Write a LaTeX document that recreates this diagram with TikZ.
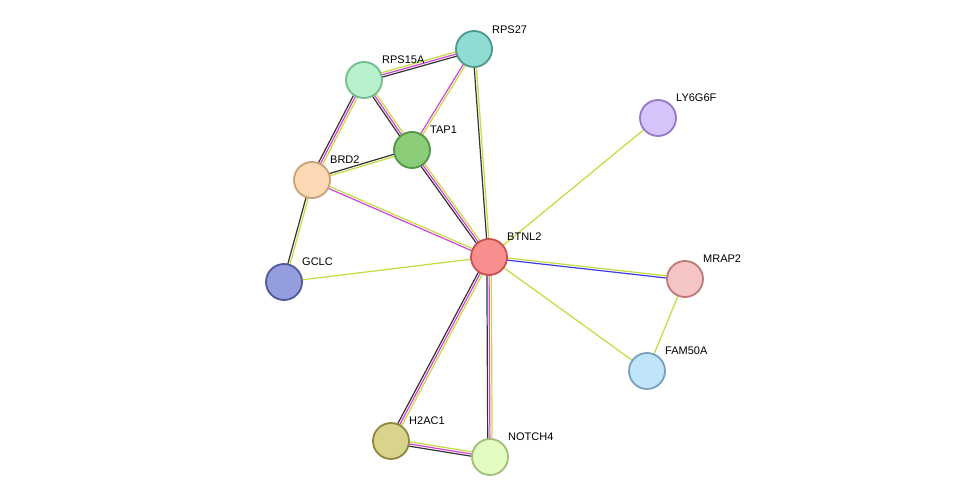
\documentclass[tikz,border=0pt]{standalone}
\usepackage{fontspec}
\setmainfont{Liberation Sans}
\usetikzlibrary{calc,backgrounds}

\definecolor{ecyel}{HTML}{C2DC3A}
\definecolor{ecmag}{HTML}{D641D6}
\definecolor{ecblk}{HTML}{333333}
\definecolor{ecblu}{HTML}{3A3AE8}

% draws the lines of one edge side by side
\newcommand{\ppiedge}[4]{%
  \foreach \col [count=\i] in {#4} {%
    \pgfmathsetmacro{\off}{(\i-1)*2.2-(#3-1)*1.1}
    \draw[edgeline, \col] ($(#1.center)!\off pt!90:(#2.center)$) -- ($(#2.center)!\off pt!-90:(#1.center)$);
  }}

\begin{document}
\begin{tikzpicture}[x=1pt, y=-1pt,
    prot/.style={circle, draw, line width=1.8pt, minimum size=36pt, inner sep=0pt},
    lbl/.style={anchor=south west, font=\fontsize{11}{13}\selectfont, inner sep=0pt},
    edgeline/.style={line width=1.2pt}
  ]
  \useasboundingbox (0,0) rectangle (976,502);

  % proteins
  \node[prot, fill={rgb,255:red,143;green,220;blue,211}, draw={rgb,255:red,80;green,150;blue,140}] (rps27) at (474,49) {};
  \node[prot, fill={rgb,255:red,184;green,240;blue,204}, draw={rgb,255:red,110;green,190;blue,140}] (rps15a) at (364,80) {};
  \node[prot, fill={rgb,255:red,138;green,204;blue,120}, draw={rgb,255:red,80;green,150;blue,70}] (tap1) at (412,150) {};
  \node[prot, fill={rgb,255:red,252;green,216;blue,180}, draw={rgb,255:red,200;green,160;blue,120}] (brd2) at (312,180) {};
  \node[prot, fill={rgb,255:red,148;green,158;blue,222}, draw={rgb,255:red,80;green,90;blue,150}] (gclc) at (284,282) {};
  \node[prot, fill={rgb,255:red,248;green,142;blue,142}, draw={rgb,255:red,200;green,80;blue,80}] (btnl2) at (489,257) {};
  \node[prot, fill={rgb,255:red,214;green,196;blue,250}, draw={rgb,255:red,150;green,120;blue,200}] (ly6g6f) at (658,118) {};
  \node[prot, fill={rgb,255:red,245;green,196;blue,196}, draw={rgb,255:red,190;green,120;blue,120}] (mrap2) at (685,279) {};
  \node[prot, fill={rgb,255:red,192;green,228;blue,250}, draw={rgb,255:red,120;green,160;blue,190}] (fam50a) at (647,371) {};
  \node[prot, fill={rgb,255:red,216;green,212;blue,140}, draw={rgb,255:red,140;green,136;blue,60}] (h2ac1) at (391,441) {};
  \node[prot, fill={rgb,255:red,226;green,252;blue,194}, draw={rgb,255:red,160;green,190;blue,120}] (notch4) at (490,457) {};

  % labels
  \node[lbl] (lrps27) at (492,34) {RPS27};
  \node[lbl] (lrps15a) at (382,64) {RPS15A};
  \node[lbl] (ltap1) at (430,134) {TAP1};
  \node[lbl] (lbrd2) at (330,164) {BRD2};
  \node[lbl] (lgclc) at (302,266) {GCLC};
  \node[lbl] (lbtnl2) at (507,241) {BTNL2};
  \node[lbl] (lly6g6f) at (676,102) {LY6G6F};
  \node[lbl] (lmrap2) at (703,263) {MRAP2};
  \node[lbl] (lfam50a) at (665,355) {FAM50A};
  \node[lbl] (lh2ac1) at (409,425) {H2AC1};
  \node[lbl] (lnotch4) at (508,441) {NOTCH4};

  % interactions
  \begin{scope}[on background layer]
    \ppiedge{rps15a}{rps27}{3}{ecblk,ecmag,ecyel}
    \ppiedge{rps15a}{tap1}{3}{ecblk,ecmag,ecyel}
    \ppiedge{rps15a}{brd2}{3}{ecblk,ecmag,ecyel}
    \ppiedge{rps27}{tap1}{2}{ecmag,ecyel}
    \ppiedge{rps27}{btnl2}{2}{ecblk,ecyel}
    \ppiedge{tap1}{brd2}{2}{ecblk,ecyel}
    \ppiedge{tap1}{btnl2}{3}{ecblk,ecmag,ecyel}
    \ppiedge{brd2}{btnl2}{2}{ecmag,ecyel}
    \ppiedge{brd2}{gclc}{2}{ecblk,ecyel}
    \ppiedge{gclc}{btnl2}{1}{ecyel}
    \ppiedge{ly6g6f}{btnl2}{1}{ecyel}
    \ppiedge{btnl2}{mrap2}{2}{ecblu,ecyel}
    \ppiedge{mrap2}{fam50a}{1}{ecyel}
    \ppiedge{btnl2}{fam50a}{1}{ecyel}
    \ppiedge{btnl2}{h2ac1}{3}{ecblk,ecmag,ecyel}
    \ppiedge{btnl2}{notch4}{3}{ecblk,ecmag,ecyel}
    \ppiedge{h2ac1}{notch4}{3}{ecblk,ecmag,ecyel}
  \end{scope}
\end{tikzpicture}
\end{document}
